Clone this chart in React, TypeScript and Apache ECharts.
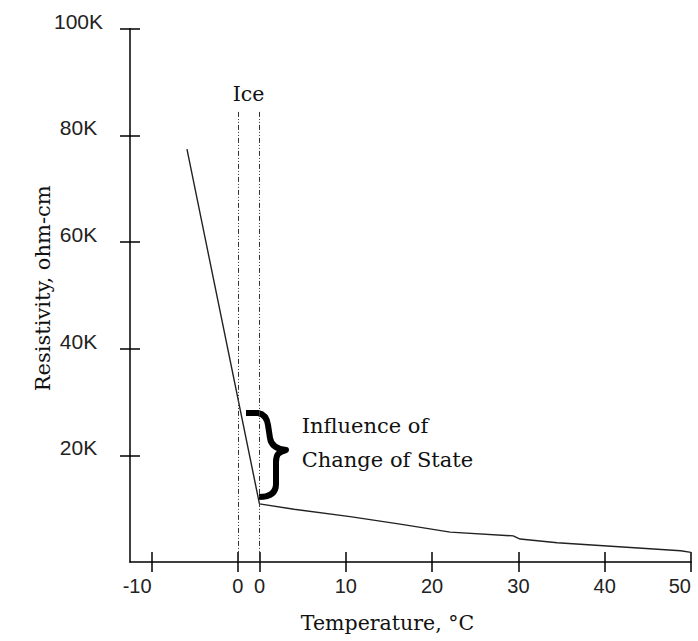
import React, { useEffect, useRef } from 'react';
import * as echarts from 'echarts';

// ---- data (resistivity in K ohm-cm, temperature in °C) ----
const ICE_GAP = 2.5; // width of the "Ice" band on the broken temperature axis (axis units)
const frozenTemps = [-5.9];
const frozenRes = [77.4];
const waterTemps = [0, 4, 10.5, 16.3, 22.1, 29.4, 30.2, 34.5, 40.3, 48.8, 50];
const waterRes = [10.9, 9.9, 8.5, 7.1, 5.6, 4.9, 4.3, 3.6, 3.0, 2.1, 1.8];
const xTickTemps = [-10, 0, 0, 10, 20, 30, 40, 50];
const xTickPhases = ['ice', 'ice', 'water', 'water', 'water', 'water', 'water', 'water'];
const yTickValues = [20, 40, 60, 80, 100];
const ICE_TOP = 84.4;

const toAxis = (t: number, phase: string) => (phase === 'water' ? t + ICE_GAP : t);
const xTickValues = xTickTemps.map((t, i) => toAxis(t, xTickPhases[i]));

const BRACE_D =
  'M 1 2 L 13 2 C 19 3 22 7 23 14 L 25 27 C 26 34 31 38 41 39 C 33 41 31 44 31 51 L 31 73 C 31 82 25 86 14 86';
let braceRegistered = false;

export default function App() {
  const ref = useRef<HTMLDivElement>(null);
  useEffect(() => {
    if (!braceRegistered) {
      echarts.graphic.registerShape('brace', echarts.graphic.extendPath(BRACE_D, {}));
      braceRegistered = true;
    }
    const chart = echarts.init(ref.current!, null, { renderer: 'svg' });
    const lineData = [
      ...frozenTemps.map((t, i) => [toAxis(t, 'ice'), frozenRes[i]]),
      ...waterTemps.map((t, i) => [toAxis(t, 'water'), waterRes[i]]),
    ];
    const xFormatter = (v: number) => {
      const i = xTickValues.findIndex((p) => Math.abs(p - v) < 1e-6);
      return i >= 0 ? String(xTickTemps[i]) : '';
    };
    const axisColor = '#000';
    const serif = 'DejaVu Serif';
    const baseX = {
      type: 'value',
      position: 'bottom',
      min: -12.5,
      max: 50 + ICE_GAP,
      splitLine: { show: false },
    };
    const baseY = {
      type: 'value',
      position: 'left',
      min: 0,
      max: 100,
      splitLine: { show: false },
    };
    chart.setOption({
      animation: false,
      backgroundColor: '#fff',
      grid: { left: 130, right: 7, top: 28.7, bottom: 79, outerBoundsMode: 'none' },
      xAxis: [
        {
          ...baseX,
          axisLine: { show: true, onZero: false, lineStyle: { color: axisColor, width: 1.5 } },
          axisTick: { show: true, inside: false, length: 10, customValues: xTickValues, lineStyle: { color: axisColor, width: 1.5 } },
          axisLabel: {
            show: true,
            customValues: xTickValues,
            formatter: xFormatter,
            margin: 14,
            alignMinLabel: 'right',
            alignMaxLabel: 'right',
            fontFamily: 'Liberation Sans',
            fontSize: 20,
            color: '#222',
          },
        },
        {
          ...baseX,
          axisLine: { show: false, onZero: false },
          axisTick: { show: true, inside: true, length: 10, customValues: xTickValues, lineStyle: { color: axisColor, width: 1.5 } },
          axisLabel: { show: false },
        },
      ],
      yAxis: [
        {
          ...baseY,
          axisLine: { show: true, onZero: false, lineStyle: { color: axisColor, width: 1.5 } },
          axisTick: { show: true, inside: false, length: 10, customValues: yTickValues, lineStyle: { color: axisColor, width: 1.5 } },
          axisLabel: {
            show: true,
            customValues: yTickValues,
            formatter: (v: number) => v + 'K',
            align: 'center',
            verticalAlign: 'bottom',
            lineHeight: 15,
            margin: 51.5,
            fontFamily: 'Liberation Sans',
            fontSize: 21,
            color: '#222',
          },
        },
        {
          ...baseY,
          axisLine: { show: false, onZero: false },
          axisTick: { show: true, inside: true, length: 10, customValues: yTickValues, lineStyle: { color: axisColor, width: 1.5 } },
          axisLabel: { show: false },
        },
      ],
      series: [
        {
          type: 'line',
          xAxisIndex: 0,
          yAxisIndex: 0,
          data: lineData,
          symbol: 'none',
          lineStyle: { color: '#222', width: 1.4 },
          markLine: {
            silent: true,
            symbol: ['none', 'none'],
            label: { show: false },
            lineStyle: { type: [5, 2, 1, 2, 1, 2], color: '#333', width: 1 },
            data: [
              [{ coord: [toAxis(0, 'ice'), ICE_TOP] }, { coord: [toAxis(0, 'ice'), 0] }],
              [{ coord: [toAxis(0, 'water'), ICE_TOP] }, { coord: [toAxis(0, 'water'), 0] }],
            ],
          },
        },
      ],
      graphic: [
        {
          type: 'text',
          x: 248.5,
          y: 93.6,
          style: { text: 'Ice', font: `20.5px "${serif}"`, fill: '#111', align: 'center', verticalAlign: 'middle' },
        },
        {
          type: 'text',
          x: 301.7,
          y: 426,
          style: { text: 'Influence of', font: `21px "${serif}"`, fill: '#111', align: 'left', verticalAlign: 'middle' },
        },
        {
          type: 'text',
          x: 301.7,
          y: 460,
          style: { text: 'Change of State', font: `21px "${serif}"`, fill: '#111', align: 'left', verticalAlign: 'middle' },
        },
        {
          type: 'brace',
          x: 245,
          y: 411,
          style: { stroke: '#000', fill: 'none', lineWidth: 6, lineJoin: 'round', lineCap: 'butt' },
        },
        {
          type: 'text',
          x: 387.5,
          y: 622.9,
          style: { text: 'Temperature, °C', font: `20.5px "${serif}"`, fill: '#111', align: 'center', verticalAlign: 'middle' },
        },
        {
          type: 'text',
          x: 43,
          y: 288.3,
          rotation: Math.PI / 2,
          style: { text: 'Resistivity, ohm-cm', font: `21px "${serif}"`, fill: '#111', align: 'center', verticalAlign: 'middle' },
        },
      ],
    });
    return () => chart.dispose();
  }, []);
  return (
    <div
      ref={ref}
      style={{ position: 'fixed', left: 0, top: 0, width: 698, height: 641, background: '#fff' }}
    />
  );
}
